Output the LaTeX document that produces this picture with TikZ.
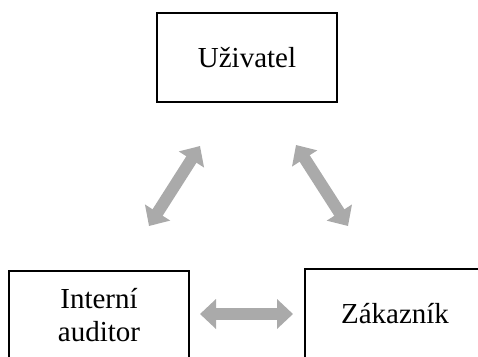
\documentclass[tikz,border=0pt]{standalone}
\usepackage{fontspec}
\setmainfont{Liberation Serif}
\usetikzlibrary{arrows.meta}
\begin{document}
\begin{tikzpicture}[x=1pt,y=-1pt,
  party/.style={draw=black,line width=2.2pt,minimum width=180pt,minimum height=89pt,
    align=center,inner sep=0pt,font=\fontsize{29}{33}\selectfont},
  link/.style={draw=linkgray,line width=12pt,
    {Triangle[width=29pt,length=16pt]}-{Triangle[width=29pt,length=16pt]}}]
\definecolor{linkgray}{HTML}{AAAAAA}
\useasboundingbox (0,0) rectangle (478,356);
\clip (0,0) rectangle (478,356);
% the three parties
\node[party] (user) at (247,57.5) {Uživatel};
\node[party] (auditor) at (99,315.5) {Interní\\auditor};
\node[party] (customer) at (395,313.5) {Zákazník};
% free ends of the two-way links
\coordinate (ua) at (200,146);
\coordinate (au) at (149,226);
\coordinate (uc) at (296,145);
\coordinate (cu) at (348,226);
\coordinate (ac) at (200,314);
\coordinate (ca) at (293,314);
\draw[link] (ua) -- (au);
\draw[link] (uc) -- (cu);
\draw[link] (ac) -- (ca);
\end{tikzpicture}
\end{document}
